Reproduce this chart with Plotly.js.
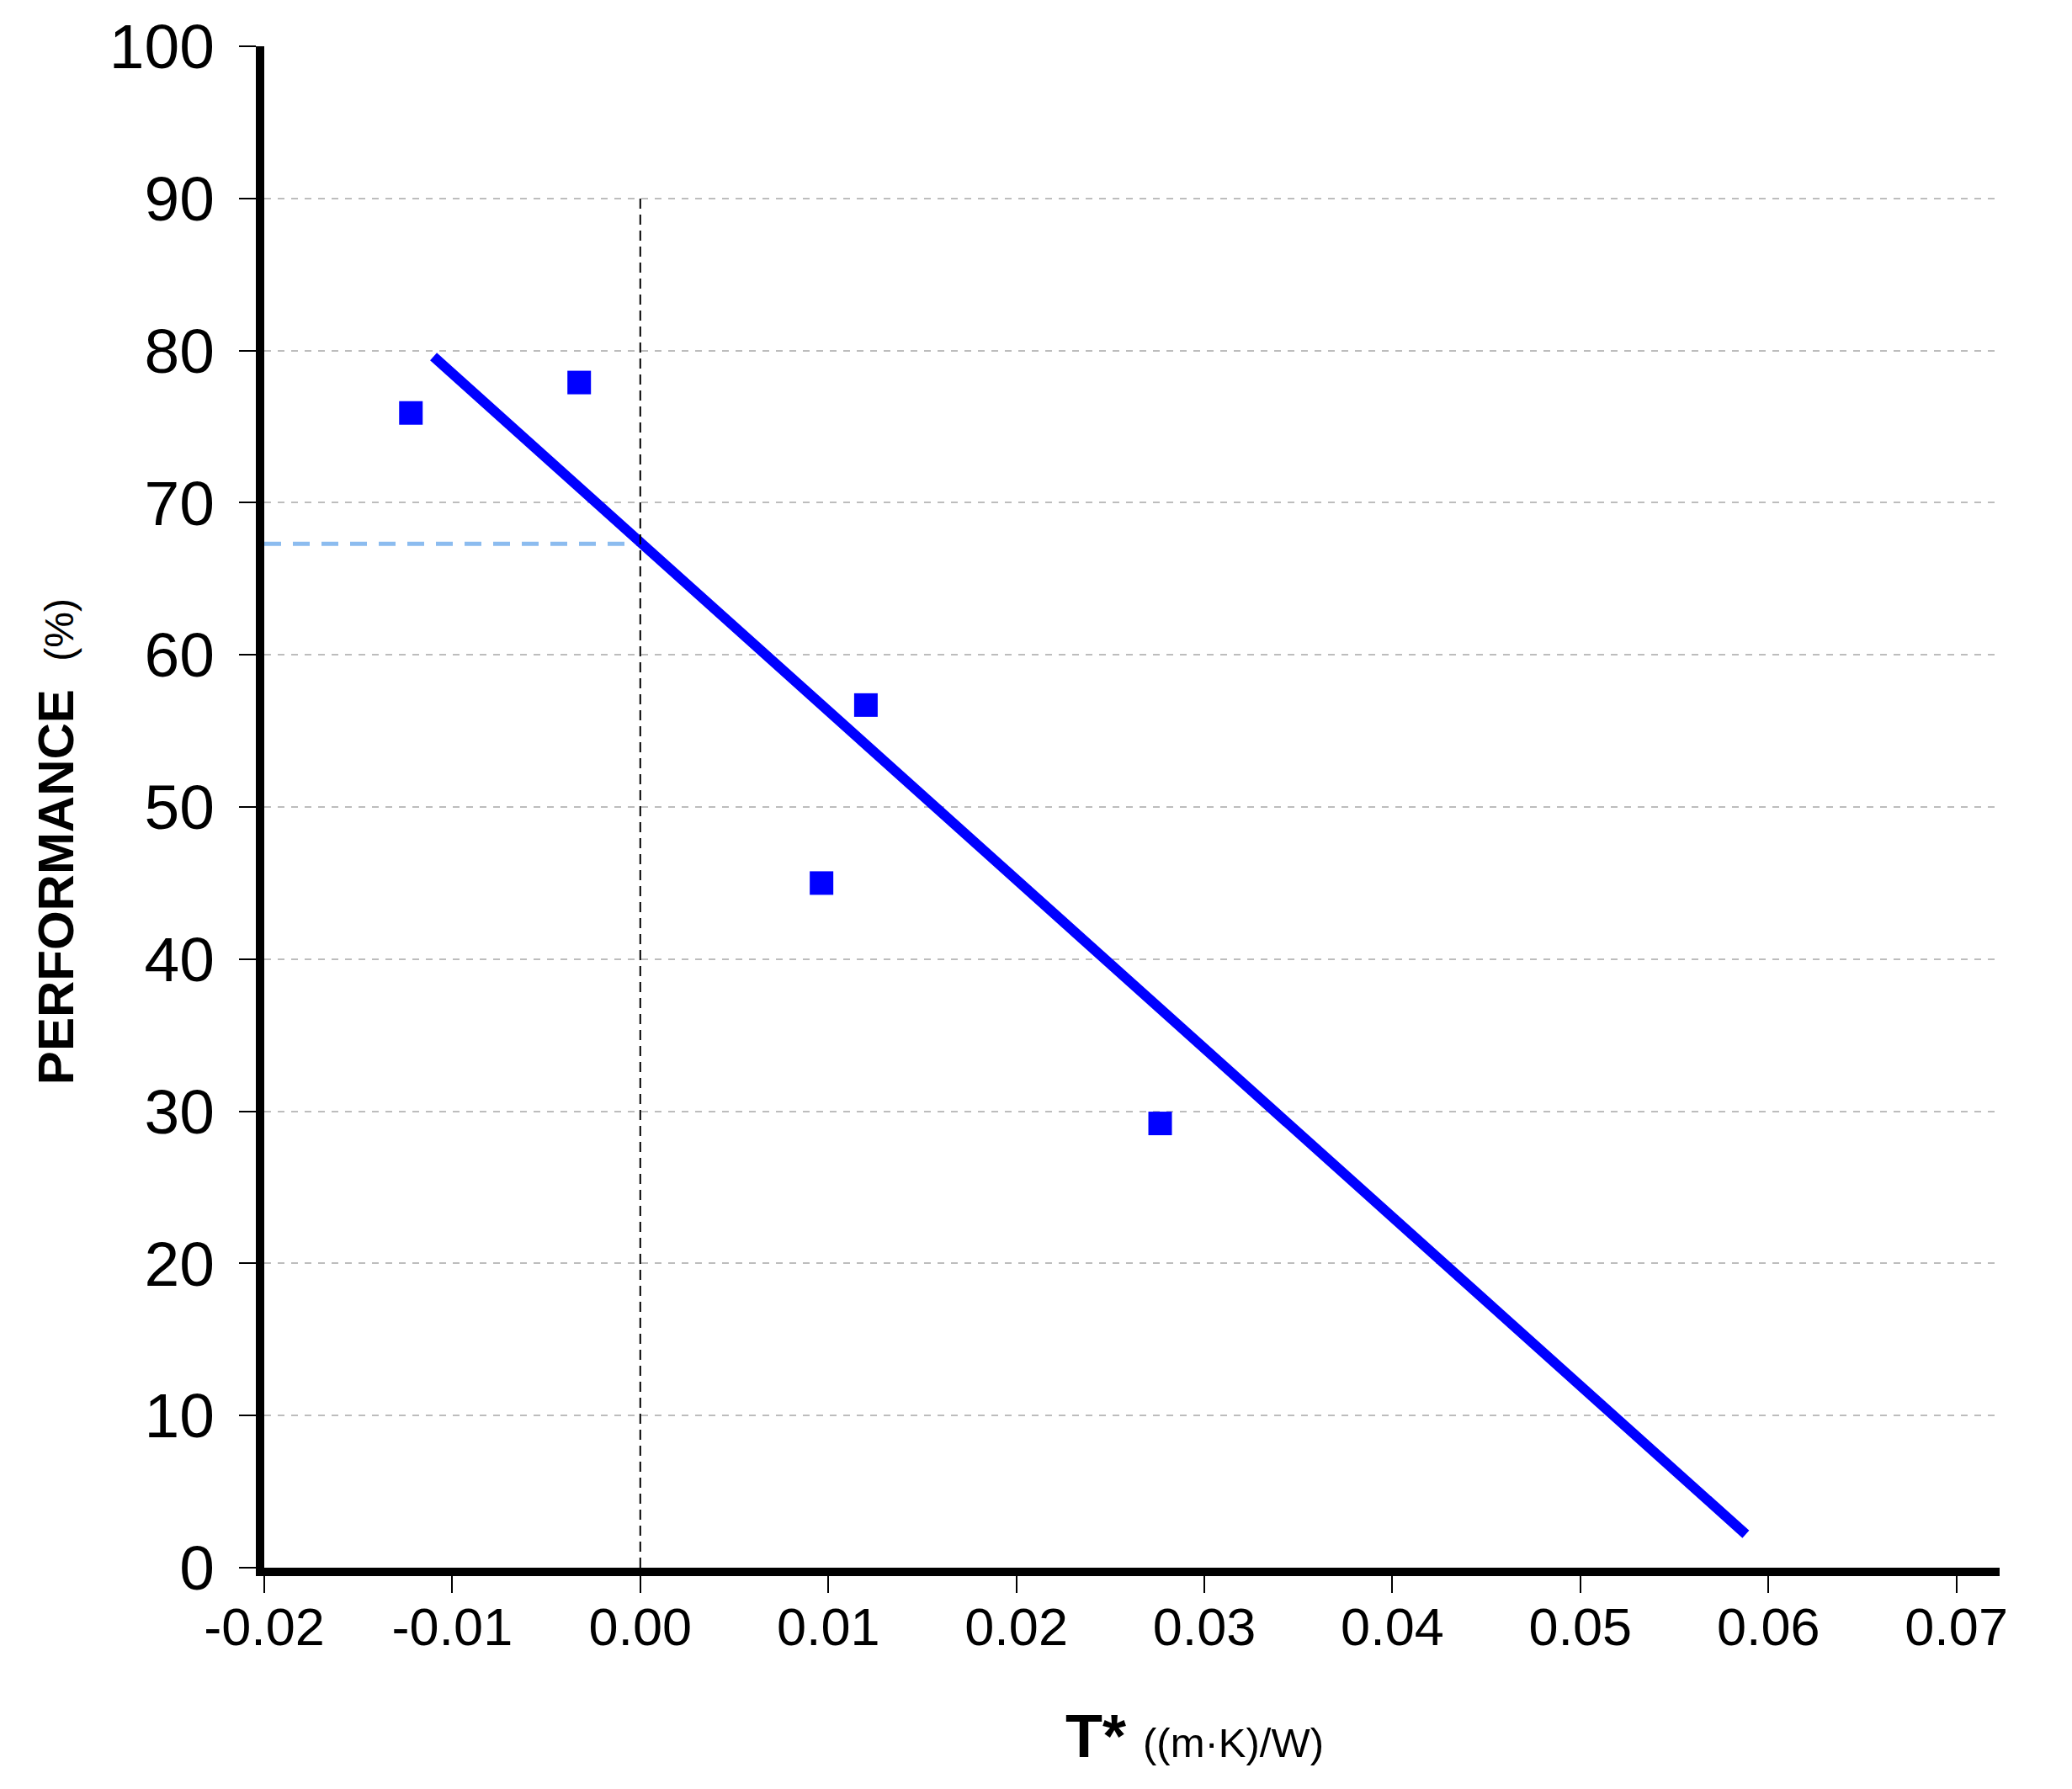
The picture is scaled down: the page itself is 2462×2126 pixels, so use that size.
<!DOCTYPE html>
<html>
<head>
<meta charset="utf-8">
<script src="https://cdn.plot.ly/plotly-3.0.1.min.js"></script>
<style>html,body{margin:0;padding:0;background:#fff;}#chart{width:2462px;height:2126px;}</style>
</head>
<body>
<div id="chart"></div>
<script>
// Measured samples
const sampleX = [-0.0122, -0.00325, 0.0120, 0.00964, 0.02765];
const samplePerf = [75.9, 77.9, 56.7, 45.0, 29.2];

// Linear fit line end points (as drawn)
const fitX = [-0.0110, 0.0588];
const fitPerf = [79.6, 2.2];

// Reference lines
const zeroLineX = [0, 0];
const zeroLinePerf = [0, 90];
const interceptX = [-0.02, 0];
const interceptPerf = [67.3, 67.3];

// Axis ticks
const xTickVals = [-0.02, -0.01, 0.00, 0.01, 0.02, 0.03, 0.04, 0.05, 0.06, 0.07];
const xTickText = ["-0.02", "-0.01", "0.00", "0.01", "0.02", "0.03", "0.04", "0.05", "0.06", "0.07"];
const yTickVals = [0, 10, 20, 30, 40, 50, 60, 70, 80, 90, 100];
const yGridVals = [10, 20, 30, 40, 50, 60, 70, 80, 90];

const traces = [
  {
    x: interceptX, y: interceptPerf, mode: 'lines', type: 'scatter',
    line: {color: '#8cbcef', width: 5, dash: '20px,14px'},
    hoverinfo: 'skip', showlegend: false
  },
  {
    x: fitX, y: fitPerf, mode: 'lines', type: 'scatter',
    line: {color: '#0000ff', width: 12},
    showlegend: false
  },
  {
    x: sampleX, y: samplePerf, mode: 'markers', type: 'scatter',
    marker: {symbol: 'square', size: 28, color: '#0000ff'},
    showlegend: false
  },
  {
    x: zeroLineX, y: zeroLinePerf, mode: 'lines', type: 'scatter', yaxis: 'y2',
    line: {color: '#000000', width: 2, dash: '12px,7px'},
    hoverinfo: 'skip', showlegend: false
  }
];

const layout = {
  width: 2462, height: 2126,
  margin: {l: 314, r: 86, t: 55, b: 263, pad: 0},
  paper_bgcolor: '#ffffff', plot_bgcolor: '#ffffff',
  showlegend: false,
  xaxis: {
    range: [-0.02, 0.0723],
    tickmode: 'array', tickvals: xTickVals, ticktext: xTickText,
    showline: true, linecolor: '#000', linewidth: 10,
    ticks: 'outside', ticklen: 20, tickwidth: 2, tickcolor: '#000',
    showgrid: false, zeroline: false,
    ticklabelstandoff: -14,
    tickfont: {family: '"Liberation Sans Narrow", "Arial Narrow", "Liberation Sans", Arial, sans-serif', size: 63, color: '#000'}
  },
  yaxis: {
    range: [0, 100],
    tickmode: 'array', tickvals: yTickVals,
    showline: true, linecolor: '#000', linewidth: 10,
    ticks: 'outside', ticklen: 20, tickwidth: 2, tickcolor: '#000',
    showgrid: false, zeroline: false,
    ticklabelstandoff: 14,
    tickfont: {family: '"Liberation Sans", Arial, sans-serif', size: 75, color: '#000'}
  },
  yaxis2: {
    range: [0, 100], overlaying: 'y', side: 'left',
    tickmode: 'array', tickvals: yGridVals,
    showticklabels: false, ticks: '', showline: false, zeroline: false,
    showgrid: true, gridcolor: '#bdbdbd', gridwidth: 2, griddash: '8px,8px'
  },
  annotations: [
    {
      xref: 'paper', yref: 'paper', x: -0.12, y: 0.477,
      xanchor: 'center', yanchor: 'middle', textangle: -90, showarrow: false,
      text: '<b>PERFORMANCE</b>\u00a0\u00a0<span style="font-size:48px">(%)</span>',
      font: {family: '"Liberation Sans", Arial, sans-serif', size: 60, color: '#000'}
    },
    {
      xref: 'paper', yref: 'paper', x: 0.4605, y: -0.1105,
      xanchor: 'left', yanchor: 'middle', showarrow: false,
      text: '<b>T*</b> <span style="font-size:49px">((m\u00b7K)/W)</span>',
      font: {family: '"Liberation Sans", Arial, sans-serif', size: 72, color: '#000'}
    }
  ]
};

Plotly.newPlot('chart', traces, layout, {staticPlot: true, displayModeBar: false});
</script>
</body>
</html>
